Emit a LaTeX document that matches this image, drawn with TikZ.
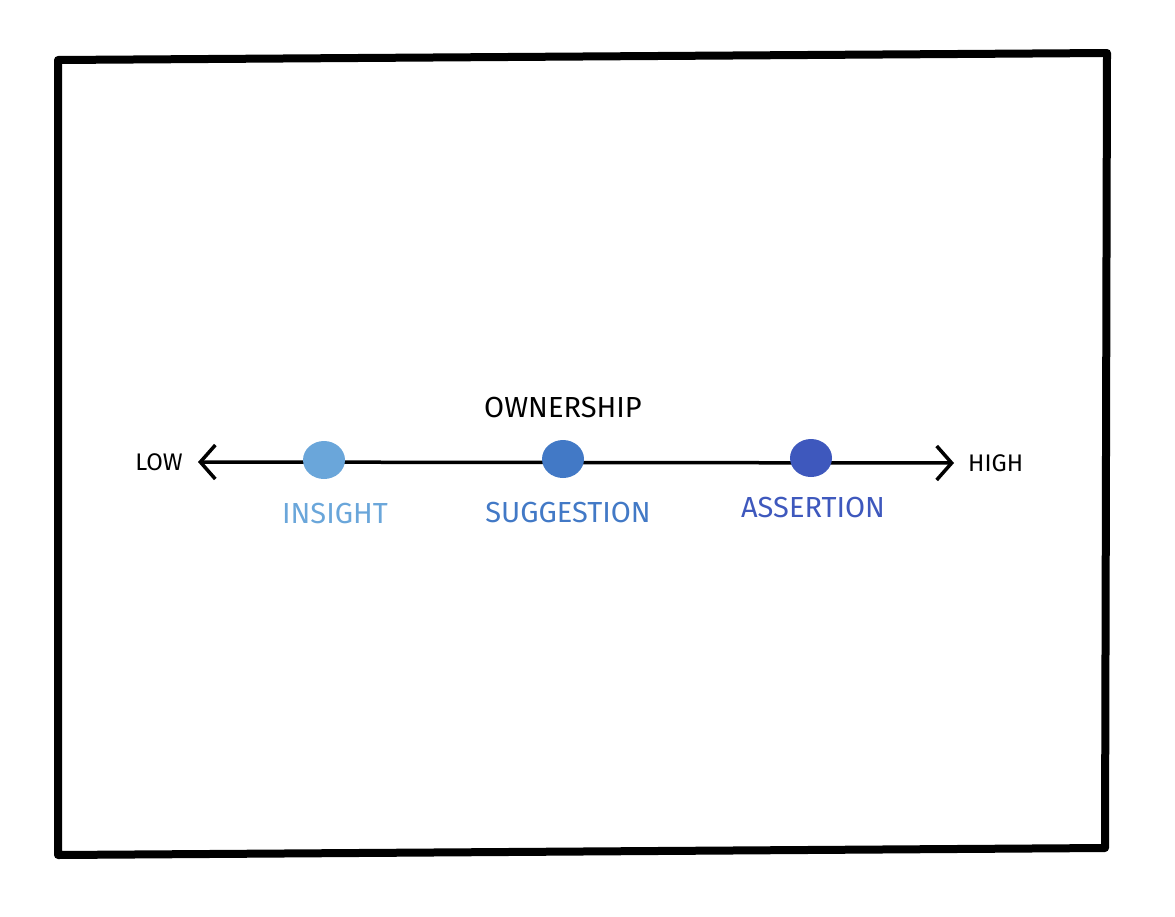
\documentclass[tikz,border=0pt]{standalone}
\usepackage{fontspec}
\setmainfont{Fira Sans}
\usetikzlibrary{positioning,arrows.meta,shapes.geometric}
\definecolor{insightblue}{HTML}{6AA6DA}
\definecolor{suggestblue}{HTML}{4279C6}
\definecolor{assertblue}{HTML}{3E58BD}

\begin{document}
\begin{tikzpicture}[x=1pt,y=-1pt]
\tikzset{frame/.style={line width=8pt, line join=round},
	axis/.style={line width=3.5pt, {Straight Barb[length=15pt,width=34pt,line width=3.5pt]}-{Straight Barb[length=15pt,width=34pt,line width=3.5pt]}},
	dot/.style={ellipse, minimum width=42pt, minimum height=38pt, inner sep=0pt},
	lbl/.style={font=\fontsize{29}{34}\selectfont, inner sep=0pt}}
	\useasboundingbox (0,0) rectangle (1175,916);
	% frame
	\draw[frame] (58,60) -- (1107,53) -- (1105,848) -- (58,855) -- cycle;
	% axis
	\coordinate (lo) at (198,462);
	\coordinate (hi) at (954,463);
	\draw[axis] (lo) -- (hi);
	\node[lbl, font=\fontsize{24}{28}\selectfont, left=15pt of lo] (low) {LOW};
	\node[lbl, font=\fontsize{24}{28}\selectfont, right=14pt of hi] (high) {HIGH};
	% points
	\node[dot, fill=insightblue] (insight) at (324,460) {};
	\node[dot, fill=suggestblue] (suggestion) at (563,459) {};
	\node[dot, fill=assertblue] (assertion) at (811,458) {};
	\node[lbl, above=22pt of suggestion] (ownership) {OWNERSHIP};
	\node[lbl, text=insightblue, below=24pt of insight.south, xshift=11pt] (tinsight) {INSIGHT};
	\node[lbl, text=suggestblue, below=24pt of suggestion.south, xshift=5pt] (tsuggestion) {SUGGESTION};
	\node[lbl, text=assertblue, below=20pt of assertion.south, xshift=2pt] (tassertion) {ASSERTION};
\end{tikzpicture}
\end{document}
